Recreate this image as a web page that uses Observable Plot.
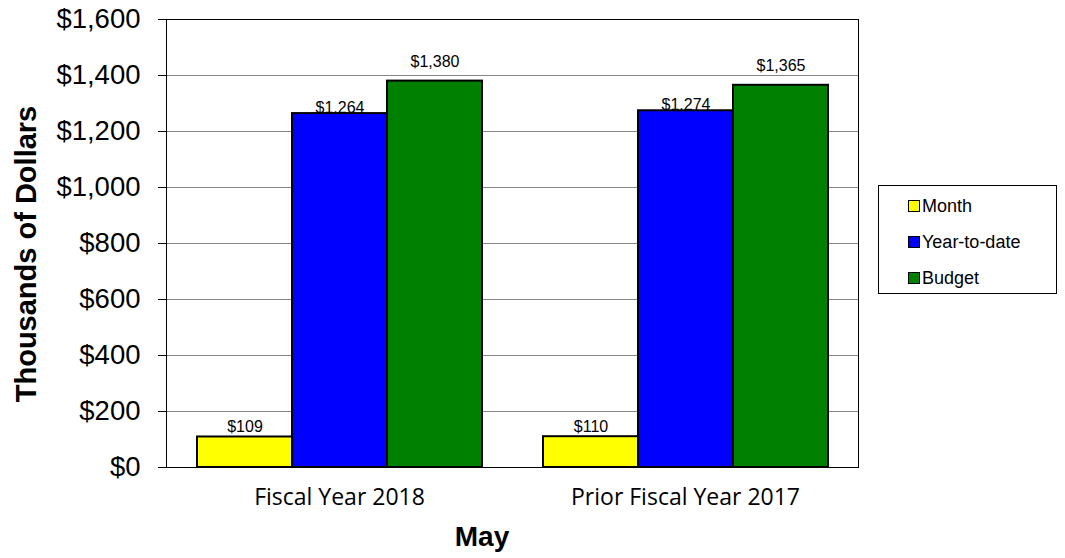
<!DOCTYPE html>
<html>
<head>
<meta charset="utf-8">
<script src="https://cdn.jsdelivr.net/npm/d3@7"></script>
<script src="https://cdn.jsdelivr.net/npm/@observablehq/plot@0.6"></script>
<style>
  body { margin: 0; background: #fff; }
  #wrap { position: relative; width: 1065px; height: 558px; font-family: "Liberation Sans", Arial, sans-serif; }
  #ytitle { position: absolute; left: 26px; top: 254px; transform: translate(-50%, -50%) rotate(-90deg); font-weight: bold; font-size: 29px; white-space: nowrap; color: #000; }
  #xtitle { position: absolute; left: 482px; top: 537px; transform: translate(-50%, -50%); font-weight: bold; font-size: 28px; color: #000; }
  #legend { position: absolute; left: 878px; top: 185px; width: 179px; height: 109px; border: 1px solid #000; box-sizing: border-box; background: #fff; }
  .lg { position: absolute; left: 29px; font-size: 18px; display: flex; align-items: center; white-space: nowrap; color: #000; line-height: 20px; }
  .sw { width: 10px; height: 10px; border: 1.5px solid #000; margin-right: 2px; }
</style>
</head>
<body>
<div id="wrap">
  <div id="ytitle">Thousands of Dollars</div>
  <div id="xtitle">May</div>
  <div id="legend"></div>
</div>
<script>
const categories = ["Fiscal Year 2018", "Prior Fiscal Year 2017"];
const seriesNames = ["Month", "Year-to-date", "Budget"];
const seriesColors = ["#ffff00", "#0000ff", "#008000"];
const monthValues = [109, 110];
const ytdValues = [1264, 1274];
const budgetValues = [1380, 1365];
const yTicks = [0, 200, 400, 600, 800, 1000, 1200, 1400, 1600];

const seriesValues = [monthValues, ytdValues, budgetValues];
const data = categories.flatMap((c, i) =>
  seriesNames.map((s, j) => ({category: c, series: s, value: seriesValues[j][i]}))
);

const fmt = d => "$" + d3.format(",")(d);
const labelDy = [-10, -6, -19];

const chart = Plot.plot({
  width: 1065,
  height: 558,
  marginLeft: 166,
  marginRight: 207,
  marginTop: 19,
  marginBottom: 91,
  style: {fontFamily: "Liberation Sans, Arial, sans-serif", background: "transparent", color: "#000"},
  fx: {domain: categories, paddingInner: 0, paddingOuter: 0, label: null},
  x: {domain: seriesNames, paddingInner: 0, paddingOuter: 0.321, axis: null},
  y: {domain: [0, 1600], label: null},
  color: {domain: seriesNames, range: seriesColors},
  marks: [
    Plot.ruleY(yTicks.filter(d => d > 0 && d < 1600), {stroke: "#868686", strokeWidth: 1}),
    Plot.barY(data, {fx: "category", x: "series", y: "value", fill: "series", stroke: "#000", strokeWidth: 2}),
    ...seriesNames.map((s, j) => Plot.text(data, {
      filter: d => d.series === s,
      fx: "category", x: "series", y: "value",
      text: d => fmt(d.value),
      dy: labelDy[j], fontSize: 16, fill: "#000"
    })),
    Plot.frame({stroke: "#000", strokeWidth: 1, facet: "super"}),
    Plot.axisY({ticks: yTicks, tickFormat: fmt, tickSize: 8, tickPadding: 18, fontSize: 27.5, label: null, stroke: "#000"}),
    Plot.axisFx({anchor: "bottom", tickSize: 0, tickPadding: 21, fontSize: 23, fontFamily: "Open Sans", label: null})
  ]
});

document.getElementById("wrap").prepend(chart);
chart.style.position = "absolute";
chart.style.left = "0";
chart.style.top = "0";

const legend = document.getElementById("legend");
seriesNames.forEach((s, i) => {
  const row = document.createElement("div");
  row.className = "lg";
  row.style.top = (10 + i * 36) + "px";
  const sw = document.createElement("div");
  sw.className = "sw";
  sw.style.background = seriesColors[i];
  const t = document.createElement("span");
  t.textContent = s;
  row.append(sw, t);
  legend.append(row);
});
</script>
</body>
</html>
